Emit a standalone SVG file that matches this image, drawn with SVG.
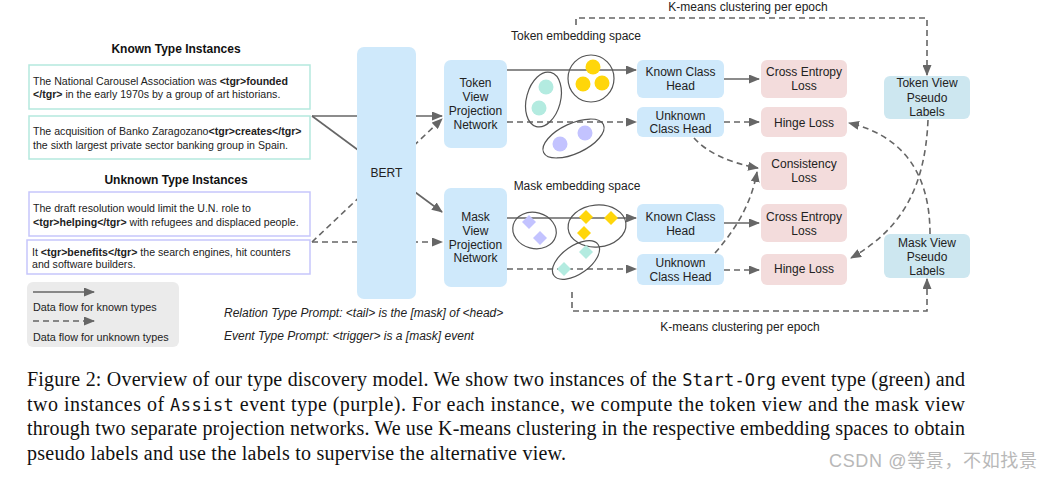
<svg xmlns="http://www.w3.org/2000/svg" width="1060" height="480" viewBox="0 0 1060 480">
<style>
text{font-family:"Liberation Sans",Arial,sans-serif;fill:#222}
.t{font-size:12px;text-anchor:middle}
.s{font-size:10.6px}
.b{font-weight:bold}
.h{font-size:12px;font-weight:bold;text-anchor:middle;fill:#111}
.blue{fill:#cfe9fb}
.pink{fill:#f3dcdc}
.pl{fill:#cde7f0}
.kin{fill:#fff;stroke:#b5e9de;stroke-width:1.5}
.uin{fill:#fff;stroke:#c6c6fb;stroke-width:1.5}
.ln{fill:none;stroke:#666;stroke-width:1.6}
.ds{stroke-dasharray:6 4}
.ar{marker-end:url(#ah)}
.el{fill:none;stroke:#555;stroke-width:1.2}
.y{fill:#ffd60a}.g{fill:#b3ebe0}.p{fill:#c3c3ff}
.cap{font-family:"Liberation Serif","Times New Roman",serif;font-size:20px;fill:#111}
.mono{font-family:"DejaVu Sans Mono","Liberation Mono",monospace;font-size:17px}
.it{font-size:12px;font-style:italic}
.lg{font-size:10.8px}
</style>
<defs>
<marker id="ah" markerUnits="userSpaceOnUse" markerWidth="11" markerHeight="9" refX="10" refY="4.5" orient="auto">
<path d="M0,0 L11,4.5 L0,9 z" fill="#666"/>
</marker>
</defs>

<g id="connectors">
<line class="ln ar" x1="312" y1="116" x2="442" y2="116"/>
<line class="ln ar" x1="312" y1="116" x2="442" y2="212"/>
<line class="ln ds ar" x1="312" y1="242" x2="442" y2="242"/>
<line class="ln ds ar" x1="312" y1="242" x2="442" y2="119"/>
<line class="ln ar" x1="507" y1="70" x2="636" y2="70"/>
<line class="ln ds ar" x1="507" y1="122" x2="636" y2="122"/>
<line class="ln ar" x1="507" y1="218" x2="636" y2="218"/>
<line class="ln ds ar" x1="507" y1="269" x2="636" y2="269"/>
<line class="ln ar" x1="724" y1="79" x2="759" y2="79"/>
<line class="ln ds ar" x1="724" y1="122" x2="759" y2="122"/>
<line class="ln ar" x1="724" y1="223" x2="759" y2="223"/>
<line class="ln ds ar" x1="724" y1="270" x2="759" y2="270"/>
<path class="ln ds ar" d="M694 138 Q714 160 758 168"/>
<path class="ln ds ar" d="M715 253 C735 230 751 205 757 172"/>
<path class="ln ds ar" d="M928 120 C925 190 900 230 851 258"/>
<path class="ln ds ar" d="M930 234 C930 170 900 135 849 123"/>
<path class="ln ds ar" d="M576 25 V18 H927 V75"/>
<path class="ln ds ar" d="M572 292 V311 H927 V279"/>
</g>

<g id="known-title"><text class="h" x="176" y="53">Known Type Instances</text></g>
<g id="inst1">
<rect class="kin" x="29" y="65" width="281" height="44"/>
<text class="s" x="33" y="85">The National Carousel Association was <tspan class="b">&lt;tgr&gt;founded</tspan></text>
<text class="s" x="33" y="98"><tspan class="b">&lt;/tgr&gt;</tspan> in the early 1970s by a group of art historians.</text>
</g>
<g id="inst2">
<rect class="kin" x="29" y="116" width="281" height="43"/>
<text class="s" x="33" y="135">The acquisition of Banko Zaragozano<tspan class="b">&lt;tgr&gt;creates&lt;/tgr&gt;</tspan></text>
<text class="s" x="33" y="149">the sixth largest private sector banking group in Spain.</text>
</g>
<g id="unknown-title"><text class="h" x="176" y="184">Unknown Type Instances</text></g>
<g id="inst3">
<rect class="uin" x="29" y="192" width="281" height="44"/>
<text class="s" x="33" y="212">The draft resolution would limit the U.N. role to</text>
<text class="s" x="33" y="226"><tspan class="b">&lt;tgr&gt;helping&lt;/tgr&gt;</tspan> with refugees and displaced people.</text>
</g>
<g id="inst4">
<rect class="uin" x="27" y="240" width="283" height="34"/>
<text class="s" x="32" y="256">It <tspan class="b">&lt;tgr&gt;benefits&lt;/tgr&gt;</tspan> the search engines, hit counters</text>
<text class="s" x="32" y="268">and software builders.</text>
</g>

<g id="legend">
<rect x="27" y="282" width="152" height="65" rx="6" fill="#ebebeb"/>
<line class="ln ar" x1="33" y1="292" x2="94" y2="292"/>
<text class="lg" x="33" y="311">Data flow for known types</text>
<line class="ln ds ar" x1="33" y1="321" x2="94" y2="321"/>
<text class="lg" x="33" y="341">Data flow for unknown types</text>
</g>

<g id="prompts">
<text class="it" x="224" y="317">Relation Type Prompt: &lt;tail&gt; is the [mask] of &lt;head&gt;</text>
<text class="it" x="224" y="340">Event Type Prompt: &lt;trigger&gt; is a [mask] event</text>
</g>

<g id="bert">
<rect class="blue" x="357" y="47" width="59" height="252" rx="7"/>
<text class="t" x="386.5" y="177">BERT</text>
</g>
<g id="token-proj">
<rect class="blue" x="444" y="60" width="63" height="88" rx="7"/>
<text class="t" x="475.5" y="87">Token</text>
<text class="t" x="475.5" y="101">View</text>
<text class="t" x="475.5" y="115">Projection</text>
<text class="t" x="475.5" y="129">Network</text>
</g>
<g id="mask-proj">
<rect class="blue" x="444" y="188" width="63" height="99" rx="7"/>
<text class="t" x="475.5" y="221">Mask</text>
<text class="t" x="475.5" y="235">View</text>
<text class="t" x="475.5" y="249">Projection</text>
<text class="t" x="475.5" y="262">Network</text>
</g>

<g id="token-space">
<text class="t" x="576" y="40">Token embedding space</text>
<ellipse class="el" cx="591" cy="78.5" rx="23" ry="23.5"/>
<circle class="y" cx="593" cy="67" r="7.5"/>
<circle class="y" cx="583" cy="84" r="7.5"/>
<circle class="y" cx="602" cy="83" r="7.5"/>
<ellipse class="el" cx="543.5" cy="99.5" rx="17" ry="28" transform="rotate(15 543.5 99.5)"/>
<circle class="g" cx="546" cy="87" r="7.5"/>
<circle class="g" cx="539" cy="108" r="7.5"/>
<ellipse class="el" cx="573.5" cy="138.5" rx="33" ry="15" transform="rotate(-25 573.5 138.5)"/>
<circle class="p" cx="560" cy="144" r="7.5"/>
<circle class="p" cx="585" cy="133" r="7.5"/>
</g>
<g id="mask-space">
<text class="t" x="577" y="190">Mask embedding space</text>
<ellipse class="el" cx="534.5" cy="230.5" rx="22" ry="18" transform="rotate(15 534.5 230.5)"/>
<polygon class="p" points="529,215 536,222 529,229 522,222"/>
<polygon class="p" points="540,231 547,238 540,245 533,238"/>
<ellipse class="el" cx="597" cy="226" rx="29" ry="21" transform="rotate(-5 597 226)"/>
<polygon class="y" points="586,210 593,217 586,224 579,217"/>
<polygon class="y" points="611,211 618,218 611,225 604,218"/>
<polygon class="y" points="584,226 591,233 584,240 577,233"/>
<ellipse class="el" cx="576" cy="260" rx="27" ry="14" transform="rotate(-35 576 260)"/>
<polygon class="g" points="586,245 593,252 586,259 579,252"/>
<polygon class="g" points="564,262 571,269 564,276 557,269"/>
</g>

<g id="known-head-token">
<rect class="blue" x="637" y="60" width="87" height="38" rx="6"/>
<text class="t" x="680.5" y="76">Known Class</text>
<text class="t" x="680.5" y="90">Head</text>
</g>
<g id="unknown-head-token">
<rect class="blue" x="637" y="107" width="87" height="30" rx="6"/>
<text class="t" x="680.5" y="120">Unknown</text>
<text class="t" x="680.5" y="133">Class Head</text>
</g>
<g id="ce-token">
<rect class="pink" x="761" y="60" width="86" height="38" rx="6"/>
<text class="t" x="804" y="76">Cross Entropy</text>
<text class="t" x="804" y="90">Loss</text>
</g>
<g id="hinge-token">
<rect class="pink" x="761" y="107" width="86" height="30" rx="6"/>
<text class="t" x="804" y="127">Hinge Loss</text>
</g>
<g id="consistency">
<rect class="pink" x="761" y="152" width="86" height="38" rx="6"/>
<text class="t" x="804" y="168">Consistency</text>
<text class="t" x="804" y="182">Loss</text>
</g>
<g id="token-pseudo">
<rect class="pl" x="884" y="76" width="86" height="43" rx="6"/>
<text class="t" x="927" y="87">Token View</text>
<text class="t" x="927" y="102">Pseudo</text>
<text class="t" x="927" y="116">Labels</text>
</g>

<g id="known-head-mask">
<rect class="blue" x="637" y="204" width="87" height="38" rx="6"/>
<text class="t" x="680.5" y="221">Known Class</text>
<text class="t" x="680.5" y="235">Head</text>
</g>
<g id="unknown-head-mask">
<rect class="blue" x="637" y="254" width="87" height="31" rx="6"/>
<text class="t" x="680.5" y="267">Unknown</text>
<text class="t" x="680.5" y="281">Class Head</text>
</g>
<g id="ce-mask">
<rect class="pink" x="761" y="204" width="86" height="38" rx="6"/>
<text class="t" x="804" y="221">Cross Entropy</text>
<text class="t" x="804" y="235">Loss</text>
</g>
<g id="hinge-mask">
<rect class="pink" x="761" y="254" width="86" height="31" rx="6"/>
<text class="t" x="804" y="273">Hinge Loss</text>
</g>
<g id="mask-pseudo">
<rect class="pl" x="884" y="234" width="86" height="44" rx="6"/>
<text class="t" x="927" y="247">Mask View</text>
<text class="t" x="927" y="261">Pseudo</text>
<text class="t" x="927" y="275">Labels</text>
</g>

<g id="kmeans-labels">
<text class="t" x="748" y="11">K-means clustering per epoch</text>
<text class="t" x="740" y="331">K-means clustering per epoch</text>
</g>

<g id="caption">
<text class="cap" x="27" y="386" textLength="938">Figure 2: Overview of our type discovery model. We show two instances of the <tspan class="mono">Start-Org</tspan> event type (green) and</text>
<text class="cap" x="27" y="411" textLength="938">two instances of <tspan class="mono">Assist</tspan> event type (purple).  For each instance, we compute the token view and the mask view</text>
<text class="cap" x="27" y="435" textLength="938">through two separate projection networks. We use K-means clustering in the respective embedding spaces to obtain</text>
<text class="cap" x="27" y="460" textLength="539">pseudo labels and use the labels to supervise the alternative view.</text>
</g>
<g id="watermark">
<text x="829" y="467" textLength="208" style="font-family:'Liberation Sans','Noto Sans CJK SC',sans-serif;font-size:18px;fill:#b8b8b8">CSDN @等景，不如找景</text>
</g>
</svg>
